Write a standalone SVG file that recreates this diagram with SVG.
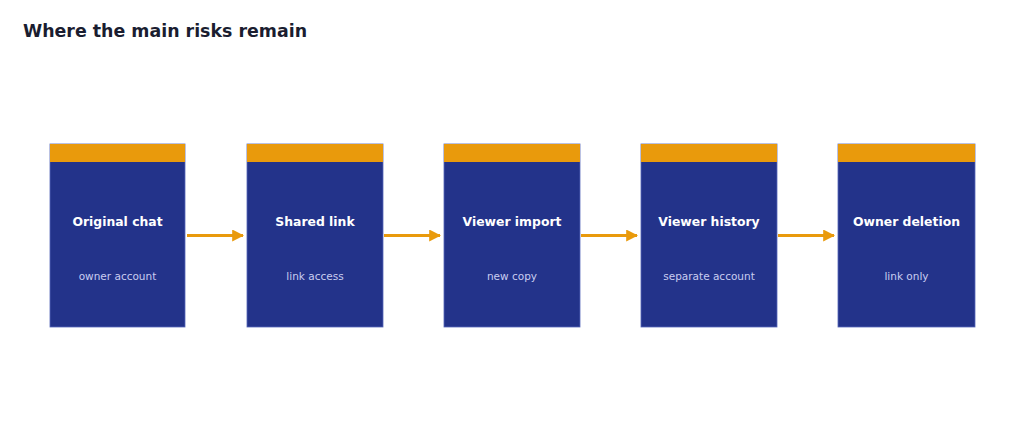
<svg xmlns="http://www.w3.org/2000/svg" width="1024" height="441" viewBox="0 0 1024 441">
<defs>
<style>
.body{fill:#23338a;stroke:#5566b8;stroke-width:0.8}
.cap{fill:#e99a0c}
.t{font-family:"DejaVu Sans",sans-serif;font-weight:bold;font-size:12.4px;fill:#ffffff;text-anchor:middle}
.s{font-family:"DejaVu Sans",sans-serif;font-size:10.5px;fill:#c9cdf0;text-anchor:middle}
.c{stroke:#e99a0c;stroke-width:3;fill:none}
</style>
<marker id="ah" viewBox="0 0 10 10" refX="9" refY="5" markerWidth="4" markerHeight="4" orient="auto" markerUnits="strokeWidth">
<path d="M0,0 L10,5 L0,10 z" fill="#e99a0c"/>
</marker>
</defs>
<rect width="1024" height="441" fill="#ffffff"/>
<text x="23" y="37" font-family="DejaVu Sans, sans-serif" font-weight="bold" font-size="17.4" fill="#1a1d30">Where the main risks remain</text>
<g id="n1"><rect class="body" x="50" y="144" width="135" height="183"/><rect class="cap" x="50" y="144" width="135" height="18"/><text class="t" x="117.5" y="226">Original chat</text><text class="s" x="117.5" y="280">owner account</text></g>
<g id="n2"><rect class="body" x="247" y="144" width="136" height="183"/><rect class="cap" x="247" y="144" width="136" height="18"/><text class="t" x="315" y="226">Shared link</text><text class="s" x="315" y="280">link access</text></g>
<g id="n3"><rect class="body" x="444" y="144" width="136" height="183"/><rect class="cap" x="444" y="144" width="136" height="18"/><text class="t" x="512" y="226">Viewer import</text><text class="s" x="512" y="280">new copy</text></g>
<g id="n4"><rect class="body" x="641" y="144" width="136" height="183"/><rect class="cap" x="641" y="144" width="136" height="18"/><text class="t" x="709" y="226">Viewer history</text><text class="s" x="709" y="280">separate account</text></g>
<g id="n5"><rect class="body" x="838" y="144" width="137" height="183"/><rect class="cap" x="838" y="144" width="137" height="18"/><text class="t" x="906.5" y="226">Owner deletion</text><text class="s" x="906.5" y="280">link only</text></g>
<g id="connectors">
<line class="c" x1="187" y1="235.5" x2="243" y2="235.5" marker-end="url(#ah)"/>
<line class="c" x1="384" y1="235.5" x2="440" y2="235.5" marker-end="url(#ah)"/>
<line class="c" x1="581" y1="235.5" x2="637" y2="235.5" marker-end="url(#ah)"/>
<line class="c" x1="778" y1="235.5" x2="834" y2="235.5" marker-end="url(#ah)"/>
</g>
</svg>
